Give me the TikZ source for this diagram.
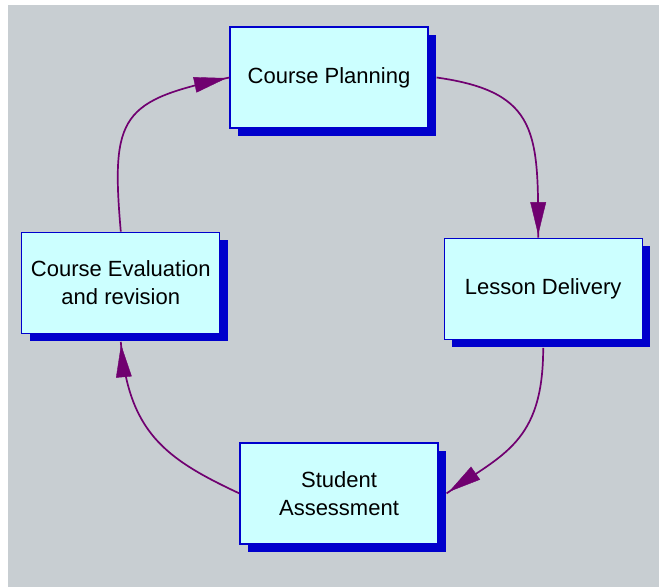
\documentclass[tikz,border=0pt]{standalone}
\usepackage{fontspec}
\setmainfont{Liberation Sans}
\usepackage{xcolor}
\definecolor{panel}{RGB}{200,206,210}
\definecolor{boxfill}{RGB}{204,255,255}
\definecolor{boxblue}{RGB}{0,0,204}
\definecolor{flowpurple}{RGB}{112,0,112}
\usetikzlibrary{positioning, calc, shapes, arrows.meta, decorations.markings, shadows}
\tikzstyle{Stage} = [
draw=boxblue, line width=1.2pt, fill=boxfill,
minimum width=198pt, minimum height=101pt, align=center,
font=\fontsize{22}{28}\selectfont,
drop shadow={shadow xshift=8pt, shadow yshift=-8pt, fill=boxblue, opacity=1}]
\tikzstyle{Arrow} = [
line width=1.7pt, draw=flowpurple,
decoration={
markings,
mark=at position 0.9999 with {
\arrow[flowpurple]{Triangle[length=36pt,width=17pt]}}},
preaction = {decorate}]

\begin{document}
\begin{tikzpicture}[x=1pt, y=1pt]
    \useasboundingbox (0,0) rectangle (659,-587);
    \fill[panel] (8,-5) rectangle (659,-587);

    \node [Stage] (plan) at (329,-77.5) {Course Planning};
    \node [Stage, below right=109pt and 15pt of plan] (lesson) {Lesson Delivery};
    \node [Stage, below left=102.5pt and 5pt of lesson] (assess) {Student\\Assessment};
    \node [Stage, below left=103pt and 9pt of plan] (eval) {Course Evaluation\\and revision};

    \draw[Arrow] ([xshift=8pt]plan.east) to [out=-8, in=90, out looseness=1.4, in looseness=1.4] ([xshift=-5pt]lesson.north);
    \draw[Arrow] ([yshift=-8pt]lesson.south) to [out=-90, in=35, out looseness=1.4, in looseness=1.0] ([xshift=8pt]assess.east);
    \draw[Arrow] (assess.west) to [out=155, in=-85, out looseness=1.1, in looseness=1.2] ([yshift=-8pt]eval.south);
    \draw[Arrow] (eval.north) to [out=95, in=192, out looseness=1.6, in looseness=1.5] (plan.west);
\end{tikzpicture}
\end{document}
